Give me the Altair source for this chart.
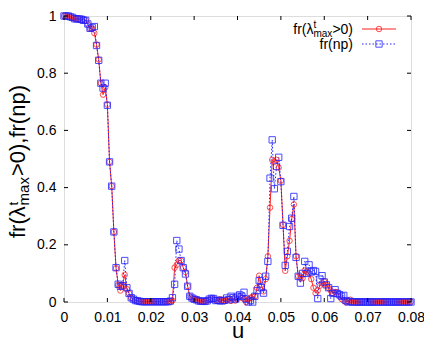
import altair as alt
import pandas as pd

# sampling grid of the control parameter u
u_vals = [round(i * 0.0005, 4) for i in range(161)]

fr_lambda = [
    1.000, 1.000, 0.998, 0.995, 0.993, 0.990, 0.990, 0.988, 0.985, 0.990,
    0.985, 0.970, 0.955, 0.955, 0.940, 0.900, 0.848, 0.765, 0.725, 0.750,
    0.690, 0.490, 0.405, 0.245, 0.118, 0.060, 0.040, 0.060, 0.095, 0.045,
    0.030, 0.015, 0.010, 0.006, 0.004, 0.002, 0.002, 0.002, 0.002, 0.002,
    0.002, 0.002, 0.002, 0.002, 0.002, 0.002, 0.002, 0.002, 0.002, 0.002,
    0.005, 0.120, 0.130, 0.145, 0.145, 0.120, 0.105, 0.055, 0.020, 0.012,
    0.010, 0.008, 0.005, 0.003, 0.002, 0.003, 0.005, 0.008, 0.012, 0.010,
    0.006, 0.004, 0.010, 0.006, 0.003, 0.006, 0.010, 0.004, 0.012, 0.005,
    0.010, 0.020, 0.015, 0.010, 0.000, 0.010, 0.015, 0.018, 0.020, 0.050,
    0.092, 0.060, 0.037, 0.080, 0.160, 0.330, 0.497, 0.490, 0.497, 0.470,
    0.424, 0.270, 0.109, 0.160, 0.214, 0.290, 0.341, 0.160, 0.090, 0.085,
    0.083, 0.110, 0.106, 0.100, 0.080, 0.050, 0.031, 0.040, 0.057, 0.065,
    0.072, 0.060, 0.049, 0.040, 0.031, 0.035, 0.034, 0.020, 0.010, 0.005,
    0.000, 0.003, 0.008, 0.001, 0.001, 0.001, 0.001, 0.001, 0.001, 0.001,
    0.001, 0.001, 0.001, 0.001, 0.001, 0.001, 0.001, 0.001, 0.001, 0.001,
    0.001, 0.001, 0.001, 0.001, 0.001, 0.001, 0.001, 0.001, 0.001, 0.001,
    0.001,
]

fr_np = [
    1.000, 1.000, 1.000, 0.997, 0.995, 0.990, 0.990, 0.990, 0.988, 0.985,
    0.985, 0.972, 0.957, 0.960, 0.963, 0.897, 0.845, 0.765, 0.748, 0.765,
    0.688, 0.490, 0.405, 0.245, 0.120, 0.062, 0.055, 0.057, 0.145, 0.050,
    0.030, 0.015, 0.010, 0.005, 0.004, 0.002, 0.001, 0.001, 0.001, 0.001,
    0.001, 0.001, 0.001, 0.001, 0.001, 0.001, 0.001, 0.001, 0.001, 0.003,
    0.015, 0.062, 0.215, 0.185, 0.145, 0.120, 0.098, 0.055, 0.020, 0.014,
    0.010, 0.008, 0.004, 0.003, 0.003, 0.002, 0.004, 0.010, 0.013, 0.012,
    0.005, 0.006, 0.004, 0.004, 0.006, 0.014, 0.008, 0.020, 0.015, 0.010,
    0.020, 0.025, 0.020, 0.034, 0.010, 0.000, 0.005, 0.000, 0.020, 0.040,
    0.075, 0.050, 0.031, 0.090, 0.142, 0.433, 0.567, 0.396, 0.474, 0.506,
    0.421, 0.268, 0.128, 0.177, 0.264, 0.293, 0.369, 0.156, 0.090, 0.066,
    0.100, 0.142, 0.100, 0.130, 0.105, 0.110, 0.107, 0.012, 0.080, 0.092,
    0.070, 0.060, 0.050, 0.012, 0.030, 0.043, 0.030, 0.026, 0.020, 0.023,
    0.005, 0.000, 0.002, 0.000, 0.000, 0.000, 0.000, 0.000, 0.000, 0.000,
    0.000, 0.000, 0.000, 0.000, 0.000, 0.000, 0.000, 0.000, 0.000, 0.000,
    0.000, 0.000, 0.000, 0.000, 0.000, 0.000, 0.000, 0.000, 0.000, 0.000,
    0.000,
]

x_ticks = [0, 0.01, 0.02, 0.03, 0.04, 0.05, 0.06, 0.07, 0.08]
y_ticks = [0, 0.2, 0.4, 0.6, 0.8, 1.0]

# text pieces: base, superscript, subscript, rest
lam_parts = ["fr(λ", "t", "max", ">0)"]
y_title_parts = ["fr(λ", "t", "max", ">0),fr(np)"]
np_label = "fr(np)"
x_title = "u"

W, H = 347, 286
RED = "#ff2020"
BLUE = "#2020ff"
FONT = "Liberation Sans"

df_r = pd.DataFrame({"u": u_vals, "v": fr_lambda})
df_b = pd.DataFrame({"u": u_vals, "v": fr_np})

xs = alt.Scale(domain=[0, 0.08], nice=False, zero=False)
ys = alt.Scale(domain=[0, 1], nice=False)

x_enc = alt.X("u:Q", scale=xs, axis=alt.Axis(
    values=x_ticks, format=".2~f", ticks=False, domain=False, grid=False,
    labelFlush=False, labelOverlap=False,
    labelFontSize=14, labelFont=FONT, labelColor="black", labelPadding=8,
    title=x_title, titleFontSize=22, titleFont=FONT, titleFontWeight="normal",
    titleColor="black", titleY=35, titleBaseline="alphabetic"))
y_enc = alt.Y("v:Q", scale=ys, axis=alt.Axis(
    values=y_ticks, format=".1~f", ticks=False, domain=False, grid=False,
    labelFlush=False, labelOverlap=False,
    labelFontSize=14, labelFont=FONT, labelColor="black", labelPadding=8,
    title=""))

red_line = alt.Chart(df_r).mark_line(color=RED, strokeWidth=1).encode(x=x_enc, y=y_enc)
red_pts = alt.Chart(df_r).mark_point(shape="circle", filled=False, color=RED,
                                     size=30, strokeWidth=1, opacity=0.8).encode(
    x=alt.X("u:Q", scale=xs), y=alt.Y("v:Q", scale=ys))
blue_line = alt.Chart(df_b).mark_line(color=BLUE, strokeWidth=1, strokeDash=[1.5, 2]).encode(
    x=alt.X("u:Q", scale=xs), y=alt.Y("v:Q", scale=ys))
blue_pts = alt.Chart(df_b).mark_point(shape="square", filled=False, color=BLUE,
                                      size=40, strokeWidth=1, opacity=0.8).encode(
    x=alt.X("u:Q", scale=xs), y=alt.Y("v:Q", scale=ys))

# inward, mirrored tick marks
dfx = pd.DataFrame({"u": x_ticks})
dfy = pd.DataFrame({"v": y_ticks})
TL = 4
tick_b = alt.Chart(dfx).mark_rule(color="black", strokeWidth=1).encode(
    x=alt.X("u:Q", scale=xs), y=alt.value(H), y2=alt.value(H - TL))
tick_t = alt.Chart(dfx).mark_rule(color="black", strokeWidth=1).encode(
    x=alt.X("u:Q", scale=xs), y=alt.value(0), y2=alt.value(TL))
tick_l = alt.Chart(dfy).mark_rule(color="black", strokeWidth=1).encode(
    y=alt.Y("v:Q", scale=ys), x=alt.value(0), x2=alt.value(TL))
tick_r = alt.Chart(dfy).mark_rule(color="black", strokeWidth=1).encode(
    y=alt.Y("v:Q", scale=ys), x=alt.value(W), x2=alt.value(W - TL))


def txt(s, x, y, size, align="left", angle=0):
    d = pd.DataFrame({"t": [s]})
    return alt.Chart(d).mark_text(
        align=align, baseline="alphabetic", fontSize=size, font=FONT,
        color="black", angle=angle).encode(text="t:N", x=alt.value(x), y=alt.value(y))


# rotated y-axis title built from pieces (sub/superscript stacked)
YB = -39   # baseline of main text (rotated)
y0 = 222   # start (bottom) of the title
MAIN, SMALL = 22, 15
w_base = 1.48 * MAIN
w_sub = 1.889 * SMALL
yt = [
    txt(y_title_parts[0], YB, y0, MAIN, angle=270),
    txt(y_title_parts[1], YB - 7, y0 - w_base, 13, angle=270),
    txt(y_title_parts[2], YB + 4, y0 - w_base, SMALL, angle=270),
    txt(y_title_parts[3], YB, y0 - w_base - w_sub - 1, MAIN, angle=270),
]

# key (top right, gnuplot style: label then sample)
KX = 289
KM, KS = 14, 10
k_rest = 1.473 * KM
k_sub = 1.889 * KS
key = [
    txt(lam_parts[3], KX, 18, KM, align="right"),
    txt(lam_parts[2], KX - k_rest, 21, KS, align="right"),
    txt(lam_parts[1], KX - k_rest - k_sub, 12, KS, align="left"),
    txt(lam_parts[0], KX - k_rest - k_sub, 18, KM, align="right"),
    txt(np_label, KX, 33, KM, align="right"),
]
kd = pd.DataFrame({"k": [0]})
key_r_line = alt.Chart(kd).mark_rule(color=RED, strokeWidth=1).encode(
    x=alt.value(298), x2=alt.value(332), y=alt.value(13))
key_b_line = alt.Chart(kd).mark_rule(color=BLUE, strokeWidth=1, strokeDash=[1.5, 2]).encode(
    x=alt.value(298), x2=alt.value(332), y=alt.value(28))
key_r_pt = alt.Chart(kd).mark_point(shape="circle", filled=False, color=RED,
                                    size=30, strokeWidth=1, opacity=0.8).encode(
    x=alt.value(315), y=alt.value(13))
key_b_pt = alt.Chart(kd).mark_point(shape="square", filled=False, color=BLUE,
                                    size=40, strokeWidth=1, opacity=0.8).encode(
    x=alt.value(315), y=alt.value(28))

chart = alt.layer(
    red_line, blue_line, red_pts, blue_pts,
    tick_b, tick_t, tick_l, tick_r,
    *yt, *key, key_r_line, key_b_line, key_r_pt, key_b_pt,
).properties(
    width=W, height=H,
    padding={"left": 56, "top": 8, "right": 13, "bottom": 36},
    autosize=alt.AutoSizeParams(type="none"),
).configure_view(stroke="black", strokeWidth=1).configure(background="white")

chart.save("out.html", embed_options={"renderer": "svg", "actions": False})
